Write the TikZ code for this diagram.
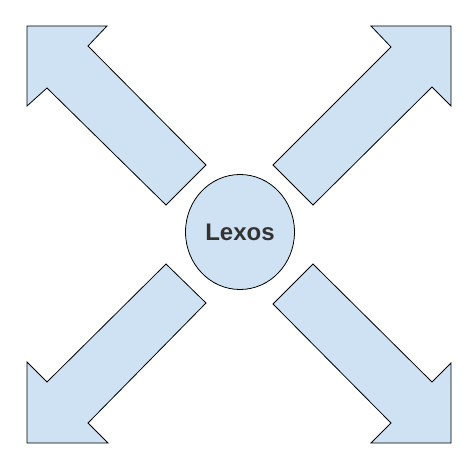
\documentclass[tikz,border=0pt]{standalone}
\usepackage{fontspec}
\setmainfont{Liberation Sans}
\usetikzlibrary{shapes.geometric}
\definecolor{lightblue}{HTML}{CFE2F3}
\definecolor{textgray}{HTML}{333333}

\begin{document}
\begin{tikzpicture}[
  x=1pt, y=-1pt,
  blockarrow/.style={draw, fill=lightblue, line width=0.8pt, line join=miter},
  hub/.style={draw, ellipse, fill=lightblue, line width=0.8pt, minimum width=109pt, minimum height=115pt, inner sep=0pt, font=\bfseries\fontsize{24}{28}\selectfont, text=textgray}
]
  \useasboundingbox (0,0) rectangle (476,476);

  \draw[blockarrow] (27,26) -- (107,26) -- (88,46) -- (206,165) -- (166,205) -- (47,88) -- (27,106) -- cycle;
  \draw[blockarrow] (451,26) -- (451,106) -- (432,87) -- (313,205) -- (273,165) -- (391,47) -- (371,26) -- cycle;
  \draw[blockarrow] (27,443) -- (27,362) -- (47,382) -- (166,264) -- (206,303) -- (88,423) -- (108,443) -- cycle;
  \draw[blockarrow] (451,443) -- (371,443) -- (391,423) -- (273,304) -- (313,264) -- (432,382) -- (451,363) -- cycle;

  \node[hub] (lexos) at (240,232) {Lexos};
\end{tikzpicture}
\end{document}
